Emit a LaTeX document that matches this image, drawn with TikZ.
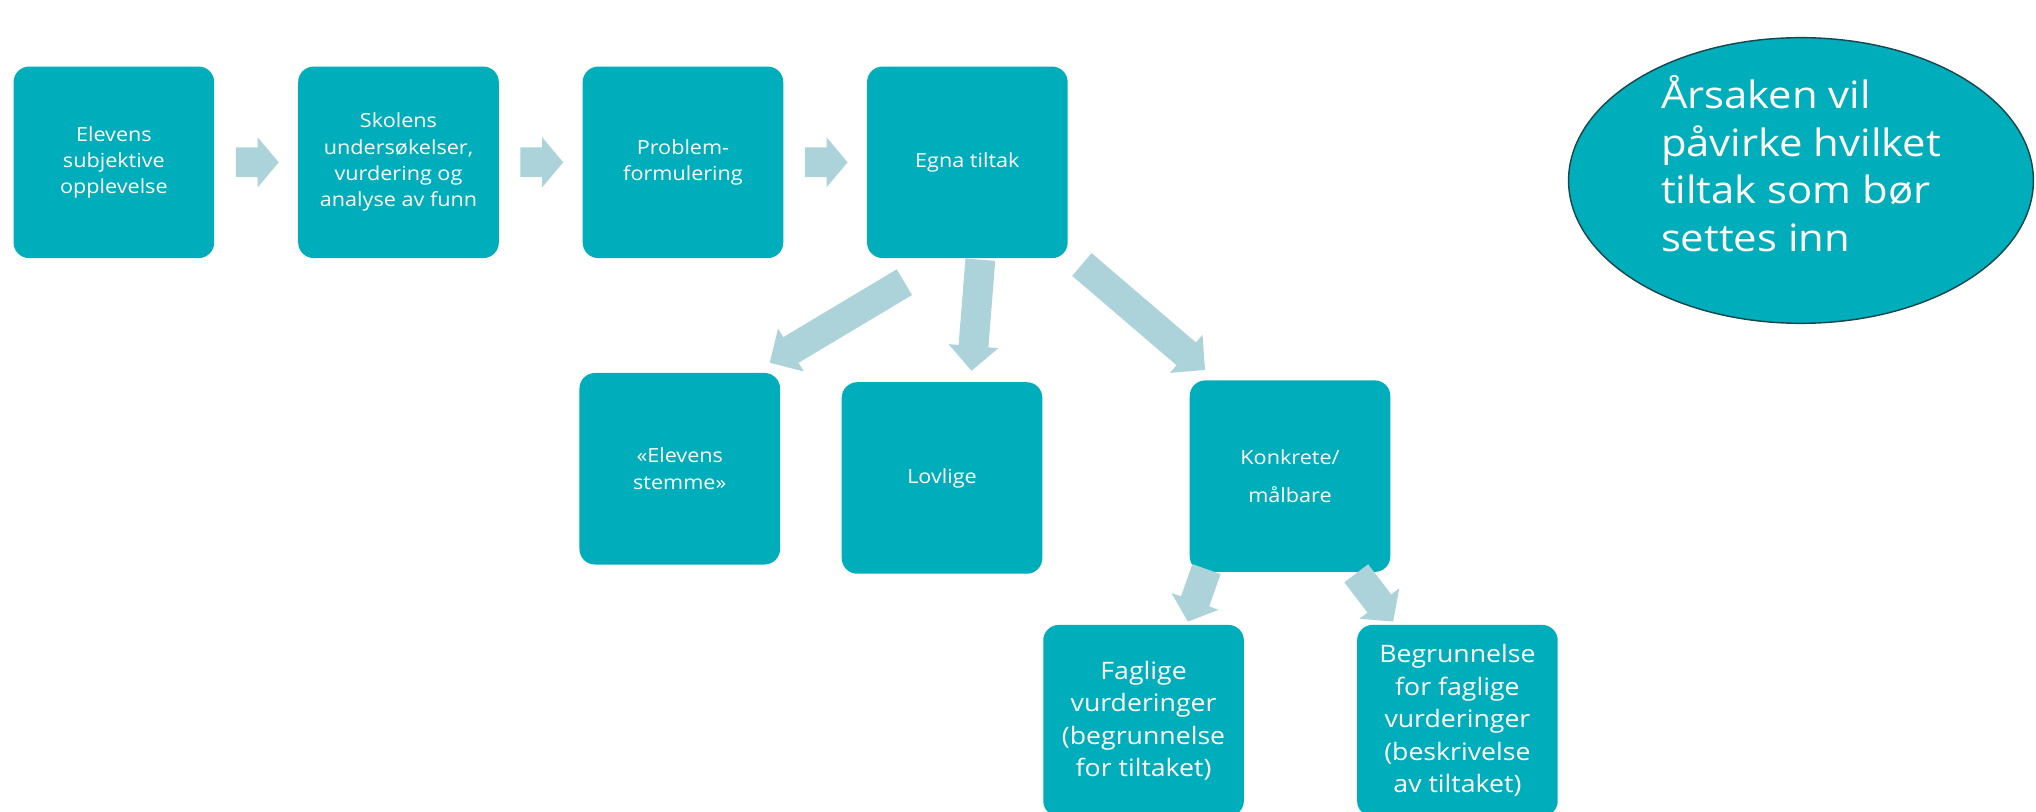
\documentclass[tikz,border=0pt]{standalone}
\usepackage{fontspec}
\setmainfont{Open Sans}[FakeStretch=1.11]
\usetikzlibrary{calc,shapes.geometric}
\definecolor{boxteal}{RGB}{0,173,187}
\definecolor{arrowc}{RGB}{171,211,217}
\definecolor{elledge}{RGB}{22,72,78}
\newcommand\shaftw{11.5pt}
\newcommand\headw{19.25pt}
\newcommand\blockarr[3][19pt]{%
  \coordinate (bh) at ($(#3)!#1!(#2)$);
  \fill[arrowc] ($(#2)!\shaftw!90:(#3)$) -- ($(bh)!\shaftw!-90:(#2)$) -- ($(bh)!\headw!-90:(#2)$) -- (#3) -- ($(bh)!\headw!90:(#2)$) -- ($(bh)!\shaftw!90:(#2)$) -- ($(#2)!\shaftw!-90:(#3)$) -- cycle;}
\tikzset{
  box/.style={fill=boxteal, rounded corners=12pt, minimum width=154.5pt, minimum height=147.5pt,
    text=white, align=center, inner sep=0pt, font=\fontsize{15}{20.3}\selectfont},
  bigbox/.style={box, font=\fontsize{18.5}{25}\selectfont},
  ellbox/.style={ellipse, draw=elledge, line width=1.1pt, fill=boxteal, minimum width=358pt, minimum height=220pt, inner sep=0pt},
  elltext/.style={text=white, align=left, inner sep=0pt, font=\fontsize{29}{36.8}\selectfont}
}
\begin{document}
\begin{tikzpicture}[x=1pt,y=-1pt]
\useasboundingbox (0,0) rectangle (1568,624.6);
% top row
\node[box] (b1) at (87.7,125) {Elevens\\subjektive\\opplevelse};
\node[box] (b2) at (306.9,125) {Skolens\\undersøkelser,\\vurdering og\\analyse av funn};
\node[box] (b3) at (526,125) {Problem-\\formulering};
\node[box] (b4) at (745,125) {Egna tiltak};
% middle row
\node[box] (b5) at (523.5,361) {«Elevens\\stemme»};
\node[box] (b6) at (725.5,368.1) {Lovlige};
\node[box, font=\fontsize{15}{29}\selectfont] (b7) at (993.5,366.7) {Konkrete/\\målbare};
% bottom row
\node[bigbox] (b8) at (880.7,555) {Faglige\\vurderinger\\(begrunnelse\\for tiltaket)};
\node[bigbox] (b9) at (1122.4,555) {Begrunnelse\\for faglige\\vurderinger\\(beskrivelse\\av tiltaket)};
% ellipse
\node[ellbox] (ell) at (1387,139) {};
\node[elltext] (elltxt) at ($(ell.center)+(0,-13)$) {Årsaken vil\\påvirke hvilket\\tiltak som bør\\settes inn};
% arrow end points
\coordinate (r1s) at ($(b1.east)+(16.5,0)$);
\coordinate (r1e) at ($(b2.west)+(-14.8,0)$);
\coordinate (r2s) at ($(b2.east)+(16.5,0)$);
\coordinate (r2e) at ($(b3.west)+(-14.8,0)$);
\coordinate (r3s) at ($(b3.east)+(16.5,0)$);
\coordinate (r3e) at ($(b4.west)+(-14.8,0)$);
\coordinate (as) at (696.5,217.3);
\coordinate (ae) at (592.8,279.3);
\coordinate (bs) at (755,200);
\coordinate (be) at (748.2,285.5);
\coordinate (cs) at (833.2,203.7);
\coordinate (ce) at (928,284.9);
\coordinate (ds) at (929.2,438.3);
\coordinate (de) at (914.8,478.7);
\coordinate (es) at (1044.5,441.5);
\coordinate (ee) at (1072.9,478.7);
\blockarr[16.2pt]{r1s}{r1e}
\blockarr[16.2pt]{r2s}{r2e}
\blockarr[16.2pt]{r3s}{r3e}
\blockarr{as}{ae}
\blockarr{bs}{be}
\blockarr{cs}{ce}
\blockarr[16.5pt]{ds}{de}
\blockarr[17.5pt]{es}{ee}
\end{tikzpicture}
\end{document}
